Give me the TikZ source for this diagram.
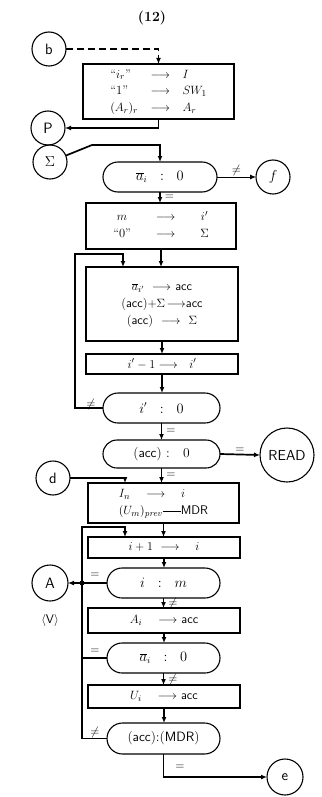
\documentclass[tikz,border=0pt]{standalone}
\usetikzlibrary{arrows.meta,shapes.misc,calc}
\begin{document}
\begin{tikzpicture}[x=1pt,y=-1pt,
  box/.style={draw,line width=1.1pt,rectangle,inner sep=0pt,outer sep=0pt,font=\fontsize{12.5}{14}\selectfont},
  oval/.style={draw,line width=1.1pt,rounded rectangle,inner sep=0pt,outer sep=0pt,font=\fontsize{13.5}{15}\selectfont},
  conn/.style={draw,line width=1.1pt,circle,inner sep=0pt,outer sep=0pt,minimum size=34pt,font=\sffamily\fontsize{15}{17}\selectfont},
  flow/.style={line width=1.7pt,-{Latex[length=6pt,width=5pt]}},
  plain/.style={line width=1.7pt},
  lbl/.style={font=\fontsize{12}{13}\selectfont,inner sep=1pt}]
\useasboundingbox (0,0) rectangle (321,797);
\node[font=\bfseries\fontsize{14}{16}\selectfont] (title) at (152,18) {(12)};
% connectors
\node[conn] (b) at (49,49) {b};
\node[conn] (P) at (48,128) {P};
\node[conn] (S) at (50,162) {$\Sigma$};
\node[conn] (f) at (273,177) {$f$};
\node[conn,minimum size=54pt,font=\sffamily\fontsize{14.5}{16}\selectfont] (READ) at (287,455) {READ};
\node[conn] (d) at (53,478) {d};
\node[conn,minimum size=36pt] (A) at (50,583) {A};
\node[conn,minimum size=36pt] (e) at (285,777) {e};
\node[font=\sffamily\fontsize{12.5}{14}\selectfont] (V) at (50,620) {$\langle$V$\rangle$};
% boxes
\renewcommand\arraystretch{1.2}
\node[box,minimum width=151pt,minimum height=55pt] (B1) at (158.5,91.5)
 {\begin{tabular}{@{}l@{\quad}c@{\quad}l@{}}``$i_r$'' & $\longrightarrow$ & $I$\\ ``1'' & $\longrightarrow$ & $SW_1$\\ $(A_r)_r$ & $\longrightarrow$ & $A_r$\end{tabular}};
\node[box,minimum width=150pt,minimum height=46pt] (B2) at (161,226)
 {\begin{tabular}{@{}c@{\qquad}c@{\qquad}c@{}}$m$ & $\longrightarrow$ & $i'$\\ ``0'' & $\longrightarrow$ & $\Sigma$\end{tabular}};
\node[box,minimum width=152pt,minimum height=74pt] (B3) at (162,304)
 {\begin{tabular}{@{}c@{}}$\overline{a}_{i'}\ \longrightarrow\ $\textsf{acc}\\ (\textsf{acc})$+\Sigma\!\longrightarrow$\textsf{acc}\\ (\textsf{acc})\ \ $\longrightarrow$\ \ $\Sigma$\end{tabular}};
\node[box,minimum width=152pt,minimum height=20pt] (B4) at (162,364) {$i'-1\longrightarrow\ \ i'$};
\node[box,minimum width=151pt,minimum height=40pt] (B5) at (163.5,503)
 {\begin{tabular}{@{}l@{}}$I_n\quad\longrightarrow\quad i$\\ $(U_m)_{\mathit{prev}}$\rule[0.6ex]{18pt}{0.5pt}\textsf{MDR}\end{tabular}};
\node[box,minimum width=152pt,minimum height=21pt] (B6) at (164,547.5) {$i+1\ \longrightarrow\quad i$};
\node[box,minimum width=152pt,minimum height=25pt] (B7) at (164,620.5) {$A_i\quad\longrightarrow$ \textsf{acc}};
\node[box,minimum width=152pt,minimum height=23pt] (B8) at (164,696.5) {$U_i\quad\longrightarrow$ \textsf{acc}};
% ovals
\node[oval,minimum width=114pt,minimum height=30pt] (O1) at (160,177) {$\overline{a}_i\ \ :\ \ 0$};
\node[oval,minimum width=117pt,minimum height=30pt] (O2) at (161.5,408) {$i'\ \ :\ \ 0$};
\node[oval,minimum width=117pt,minimum height=28pt] (O3) at (161.5,454) {(\textsf{acc})\ :\ \ \ 0};
\node[oval,minimum width=113pt,minimum height=30pt] (O4) at (163.5,583) {$i\ \ :\ \ m$};
\node[oval,minimum width=113pt,minimum height=30pt] (O5) at (163.5,658) {$\overline{a}_i\ \ :\ \ 0$};
\node[oval,minimum width=113pt,minimum height=31pt] (O6) at (163.5,738.5) {(\textsf{acc}):(\textsf{MDR})};
% helper coordinates
\coordinate (sk) at (92,145);
\coordinate (lp1) at (75,254);
\coordinate (lp2) at (82,527);
\coordinate (jn) at (82,583);
% flow lines
\draw[flow,dashed,dash pattern=on 7pt off 4pt] (b) -| (B1.north);
\draw[flow] (B1.south) |- (P);
\draw[flow] (S) -- (sk) -| (O1.north);
\draw[line width=0.9pt,-{Latex[length=6pt,width=5pt]}] (O1.east) -- (f.west) node[lbl,midway,above] {$\neq$};
\draw[flow] (O1.south) -- (O1.south |- B2.north) node[lbl,midway,right=3pt] {$=$};
\draw[flow] (B2.south) -- (B2.south |- B3.north);
\draw[flow] (O2.west) -| (lp1) -| ($(B3.north west)+(37,0)$);
\node[lbl] (ne1) at (91,404) {$\neq$};
\draw[flow] (B3.south) -- (B3.south |- B4.north);
\draw[flow] (B4.south) -- (B4.south |- O2.north);
\draw[flow] (O2.south) -- (O2.south |- O3.north) node[lbl,midway,right=3pt] {$=$};
\draw[flow] (O3.east) -- (READ.west) node[lbl,midway,above] {$=$};
\draw[flow] (d) -| ($(B5.north west)+(37,0)$);
\draw[flow] (O3.south) -- (O3.south |- B5.north) node[lbl,midway,right=3pt] {$=$};
\draw[flow] (B5.south) -- (B5.south |- B6.north);
\draw[flow] (O6.west) -| (lp2) -| ($(B6.north west)+(37,0)$);
\node[lbl] (ne2) at (95,732) {$\neq$};
\draw[flow] (B6.south) -- (B6.south |- O4.north);
\draw[flow] (O4.west) -- (A);
\fill (jn) circle (2.5pt);
\node[lbl] (eq1) at (95,575) {$=$};
\draw[flow] (O4.south) -- (O4.south |- B7.north) node[lbl,midway,right=3pt] {$\neq$};
\draw[flow] (B7.south) -- (B7.south |- O5.north);
\draw[plain] (O5.west) -- (O5.west -| lp2);
\node[lbl] (eq2) at (95,651) {$=$};
\draw[flow] (O5.south) -- (O5.south |- B8.north) node[lbl,midway,right=3pt] {$\neq$};
\draw[flow] (B8.south) -- (B8.south |- O6.north);
\draw[flow] (O6.south) |- (e);
\node[lbl] (eq3) at (180,767) {$=$};
\end{tikzpicture}
\end{document}
